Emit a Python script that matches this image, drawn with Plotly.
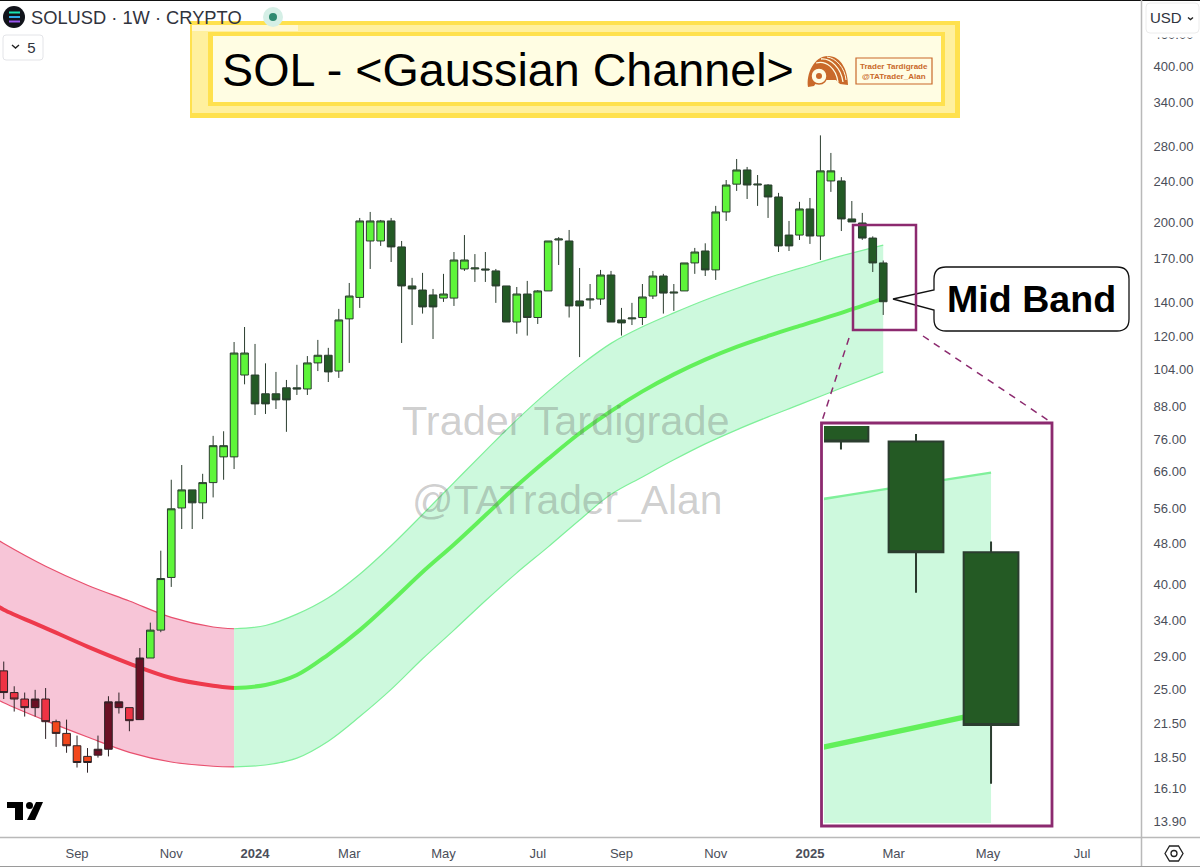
import pandas as pd
import plotly.graph_objects as go

W, H = 1200, 867

# weekly SOLUSD candles
weeks = pd.date_range("2023-07-17", periods=85, freq="7D")
opens = [27.2, 24.7, 24.0, 23.1, 24.0, 21.7, 20.6, 19.5, 18.6, 18.7, 19.2, 23.1, 23.1, 21.9, 28.8, 32.6, 41.2,
         56.1, 60.8, 57.4, 62.8, 70.4, 70.4, 101.3, 101.3, 93.2, 93.2, 95.7, 95.7, 95.2, 106.9, 110.6, 103.1, 130,
         143, 183.8, 183.8, 200.9, 179, 150.5, 147.8, 144.6, 142.6, 142.6, 162.3, 162.3, 162.3, 160.9, 150.5, 128.2,
         145.2, 130.8, 147.2, 184.6, 183.8, 140.8, 141.4, 142, 158, 129.4, 130, 130.8, 143.9, 157.3, 145.8, 147.2,
         166.7, 175.8, 161.6, 209.1, 236.6, 252, 235.7, 235.7, 223.5, 188.7, 188.7, 211.9, 187.9, 240, 240, 202.7,
         199.1, 186.2, 166.7]
closes = [24.7, 24.0, 23.1, 24.0, 21.7, 20.6, 19.5, 18.1, 18.1, 19.2, 23.7, 23.7, 21.8, 28.8, 32.6, 41.0, 55.9,
          60.8, 57.4, 62.8, 74.0, 74.0, 111.7, 111.7, 89.1, 89.1, 90.7, 90.7, 95.2, 106.9, 110.6, 102.7, 129.4, 143.9,
          200.9, 200.9, 200.9, 179, 150.5, 148.5, 137.1, 137.1, 145.2, 168.9, 168.9, 163, 161.6, 150.5, 128.2, 145.2,
          130.8, 147.2, 183.8, 185.4, 137.7, 137.7, 142, 158, 128.2, 127.7, 130.5, 143.3, 157.3, 145.8, 146.4, 166.7,
          175, 161.6, 209.1, 235.7, 252, 235.7, 236.6, 223.5, 179.8, 179.8, 211.9, 187.9, 251, 251, 202.7, 200,
          186.2, 166.7, 140.3]
highs = [28.35, 25.4, 24.7, 25.0, 25.2, 21.9, 21.9, 20.4, 19.3, 20.4, 24.3, 24.7, 23.1, 30.1, 33.7, 46.4, 63.6,
         67.9, 60.8, 65.3, 77.3, 78.9, 117.3, 125.4, 116.3, 106.7, 102.7, 99.1, 106, 110.2, 118.4, 114.3, 135.9, 152.5,
         203.6, 209.1, 201.8, 203.6, 183.8, 156, 159.5, 148.5, 158.8, 175, 188.7, 173.4, 175, 162.3, 150.5, 149.8,
         153.9, 147.8, 183.8, 187, 193, 163, 151.8, 161.6, 160.9, 136.5, 139.6, 151.8, 160.9, 158.8, 151.8, 166.7,
         178.2, 181.9, 214.8, 241, 264.6, 255.4, 246.4, 236.6, 227.6, 200.9, 218.7, 222.5, 293.9, 271.8, 244.1, 219.5,
         208.2, 187.6, 168.5]
lows = [24.0, 22.7, 22.2, 22.2, 20.1, 19.4, 18.9, 17.7, 17.3, 18.5, 18.6, 22.5, 20.8, 21.9, 28.8, 32.3, 39.5,
        51.1, 51.1, 53.4, 58.8, 63.6, 66.7, 97.2, 84.8, 85.2, 87.1, 78.7, 92.7, 92.7, 103.1, 98.2, 100, 106.9,
        136.5, 162.3, 179.8, 167.4, 116.8, 126.5, 133.1, 118.9, 140.2, 137.7, 160.9, 153.2, 153.2, 139.6, 128.2, 121.7,
        120.7, 127.1, 147.2, 165.2, 130.8, 109.7, 135.9, 138.3, 128.2, 120.7, 126.5, 126.5, 142, 133.1, 134.7, 147.2,
        158.8, 157.3, 154.6, 200.9, 229.6, 221.5, 214.8, 203.6, 175, 175.8, 184.6, 181.4, 168.9, 228.6, 192.1, 200,
        184.7, 160.1, 132.3]
assert len(opens) == len(closes) == len(highs) == len(lows) == len(weeks)

# which candles belong to which colour regime
red_weeks = [0, 1, 2, 3, 4, 9, 10, 11, 12, 13]
orange_weeks = [5, 6, 7, 8]
green_weeks = list(range(14, 85))
inset_weeks = [81, 82, 83, 84]

# Gaussian channel, bearish part then bullish part
red_dates = ["2023-07-10", "2023-07-17", "2023-08-14", "2023-09-11", "2023-10-09", "2023-11-06", "2023-12-04", "2023-12-18"]
red_upper = [49.3, 47.9, 43.3, 39.8, 37.1, 34.5, 33.05, 32.8]
red_mid = [36.7, 35.7, 32.9, 30.3, 28.1, 26.35, 25.45, 25.2]
red_lower = [24.2, 23.6, 21.8, 20.27, 18.94, 18.14, 17.8, 17.75]

green_dates = ["2023-12-18", "2024-01-08", "2024-01-29", "2024-02-19", "2024-03-11", "2024-04-01", "2024-04-22",
               "2024-05-13", "2024-06-03", "2024-06-24", "2024-07-15", "2024-08-05", "2024-08-26", "2024-09-16",
               "2024-10-07", "2024-10-28", "2024-11-18", "2024-12-09", "2024-12-30", "2025-01-27", "2025-02-24"]
green_upper = [32.8, 33.27, 35.0, 37.64, 41.8, 47.44, 54.5, 62.8, 72.3, 83.0, 94.2, 105.5, 116.6, 125.5, 133.5, 141.4,
               148.8, 156.0, 162.7, 172, 180.5]
green_mid = [25.2, 25.55, 26.7, 29.25, 32.6, 36.98, 42.2, 47.7, 54.3, 61.9, 69.8, 78.2, 86.3, 94.2, 101.6, 108.5,
             114.8, 120.5, 126, 133.5, 142.2]
green_lower = [17.75, 17.9, 18.46, 19.9, 22.2, 25.05, 28.7, 32.6, 37.14, 42.05, 47.2, 53.2, 59.6, 64.4, 69.5, 74.6,
               79.4, 84.1, 88.8, 95.6, 102.7]

price_ticks = [460, 400, 340, 280, 240, 200, 170, 140, 120, 104, 88, 76, 66, 56, 48, 40, 34, 29, 25, 21.5, 18.5, 16.1, 13.9]
date_ticks = ["2023-09-04", "2023-11-06", "2024-01-01", "2024-03-04", "2024-05-06", "2024-07-08", "2024-09-02",
              "2024-11-04", "2025-01-06", "2025-03-03", "2025-05-05", "2025-07-07"]
date_labels = ["Sep", "Nov", "<b>2024</b>", "Mar", "May", "Jul", "Sep", "Nov", "<b>2025</b>", "Mar", "May", "Jul"]

FONT = "Liberation Sans"
PURPLE = "#8c2a6f"
GREEN_LINE = "#7ff09a"
GREEN_MID = "#62f05a"
GREEN_FILL = "#cdf9dd"
RED_LINE = "#e8506e"
RED_MID = "#ee3a4c"
RED_FILL = "#f7c5d7"
BANNER_DARK = "#ffe14e"
BANNER_LIGHT = "#fff09e"
BANNER_CREAM = "#fffde3"
ORANGE = "#c9692a"


def px(x):
    return x / W


def py(y):
    return 1 - y / H


def rect(x0, y0, x1, y1, fill="rgba(0,0,0,0)", line="rgba(0,0,0,0)", width=0, kind="rect"):
    return dict(type=kind, xref="paper", yref="paper", x0=px(x0), y0=py(y0), x1=px(x1), y1=py(y1),
                fillcolor=fill, line=dict(color=line, width=width))


def path(d, fill=None, line="rgba(0,0,0,0)", width=0, dash="solid"):
    # d is an svg path with absolute pixel coordinates, turned into paper coordinates here
    out = []
    is_x = True
    for tok in d.split():
        if tok.isalpha():
            out.append(tok)
        else:
            out.append(str(px(float(tok)) if is_x else py(float(tok))))
            is_x = not is_x
    s = dict(type="path", xref="paper", yref="paper", path=" ".join(out), line=dict(color=line, width=width, dash=dash))
    if fill:
        s["fillcolor"] = fill
    return s


def label(x, y, text, size, color="#000", anchor="center", family=FONT):
    return dict(xref="paper", yref="paper", x=px(x), y=py(y), text=text, showarrow=False, xanchor=anchor,
                yanchor="middle", font=dict(family=family, size=size, color=color), borderpad=0, borderwidth=0)


def candles(idx, up, down, border, width, xaxis="x", yaxis="y"):
    return go.Candlestick(
        x=[weeks[i] for i in idx],
        open=[opens[i] for i in idx],
        high=[highs[i] for i in idx],
        low=[lows[i] for i in idx],
        close=[closes[i] for i in idx],
        increasing=dict(fillcolor=up, line=dict(color=border, width=width)),
        decreasing=dict(fillcolor=down, line=dict(color=border, width=width)),
        whiskerwidth=0, xaxis=xaxis, yaxis=yaxis, zorder=2, hoverinfo="skip",
    )


def band(dates, upper, mid, lower, edge, centre, fill, edge_w, mid_w, xaxis="x", yaxis="y"):
    common = dict(x=dates, mode="lines", xaxis=xaxis, yaxis=yaxis, hoverinfo="skip")
    return [
        go.Scatter(y=upper, line=dict(color=edge, width=edge_w, shape="spline", smoothing=1), **common),
        go.Scatter(y=lower, line=dict(color=edge, width=edge_w, shape="spline", smoothing=1), fill="tonexty",
                   fillcolor=fill, **common),
        go.Scatter(y=mid, line=dict(color=centre, width=mid_w, shape="spline", smoothing=1), **common),
    ]


fig = go.Figure()

for t in band(red_dates, red_upper, red_mid, red_lower, RED_LINE, RED_MID, RED_FILL, 1.2, 4):
    fig.add_trace(t)
for t in band(green_dates, green_upper, green_mid, green_lower, GREEN_LINE, GREEN_MID, GREEN_FILL, 1.2, 4):
    fig.add_trace(t)
fig.add_trace(candles(red_weeks, "#6b1024", "#ee3344", "#2e2226", 1))
fig.add_trace(candles(orange_weeks, "#f2471c", "#f2471c", "#2e2226", 1))
fig.add_trace(candles(green_weeks, "#5ef53a", "#235a25", "#2b3d2f", 1))

# zoomed panel, same data on its own axes
for t in band(green_dates, green_upper, green_mid, green_lower, GREEN_LINE, GREEN_MID, GREEN_FILL, 2.5, 5.5, "x2", "y2"):
    fig.add_trace(t)
fig.add_trace(candles(inset_weeks, "#5ef53a", "#245a24", "#2b3d2f", 2, "x2", "y2"))

shapes = [
    # chart frame
    rect(0, 0, W, 1, fill="#111", ),
    rect(0, 866, W, 867, fill="#9a9a9a"),
    path("M 0 837.5 L 1200 837.5", line="#b9b9b9", width=1.5),
    path("M 1141.5 0 L 1141.5 866", line="#b9b9b9", width=1.5),
    # title banner
    rect(190, 21, 960, 118, fill=BANNER_DARK),
    rect(192, 25, 955, 113, fill=BANNER_LIGHT),
    rect(208, 32, 945, 106, fill=BANNER_DARK),
    rect(213, 36, 941, 102, fill=BANNER_CREAM),
    rect(192, 25, 298, 31, fill="#fff8d4"),
    # logo box
    rect(856, 58, 932, 84, line=ORANGE, width=1.2),
    path("M 808 87 C 806 74 814 56 828 56 C 842 56 848 72 848 85 L 840 84 L 836 80 L 818 80 L 814 86 Z", fill=ORANGE),
    path("M 816 63 C 826 60 836 68 838 82", line=BANNER_CREAM, width=1.3),
    path("M 821 59 C 831 58 841 68 843 82", line=BANNER_CREAM, width=1.3),
    path("M 827 57 C 836 58 845 68 846 80", line=BANNER_CREAM, width=1),
    rect(811, 68, 827, 84, fill=BANNER_CREAM, line=ORANGE, width=1.5, kind="circle"),
    rect(816, 73, 822, 79, fill=ORANGE, kind="circle"),
    # header icons
    rect(3, 6, 25, 28, fill="#11131a", kind="circle"),
    path("M 9 12.5 L 20 12.5", line="#19e3b0", width=2),
    path("M 9 17 L 20 17", line="#2fa8e8", width=2),
    path("M 9 21.5 L 20 21.5", line="#9a55f0", width=2),
    rect(263, 7, 283, 27, fill="#d5efe6", kind="circle"),
    rect(269, 13, 277, 21, fill="#2f8a70", kind="circle"),
    path("M 6 60 L 40 60 Q 43 60 43 57 L 43 38 Q 43 35 40 35 L 6 35 Q 3 35 3 38 L 3 57 Q 3 60 6 60 Z",
         fill="#fff", line="#e3e4e8", width=1),
    path("M 12 45 L 15.5 48 L 19 45", line="#222", width=1.4),
    # currency button covers the top price label
    rect(1143, 33, 1200, 37.5, fill="#fff"),
    path("M 1150 33 L 1195 33 Q 1199 33 1199 29 L 1199 7 Q 1199 3 1195 3 L 1150 3 Q 1146 3 1146 7 L 1146 29 Q 1146 33 1150 33 Z",
         fill="#fff", line="#ececec", width=1),
    path("M 1188 17.5 L 1190.5 19.5 L 1193 17.5", line="#222", width=1.4),
    # settings icon
    path("M 1165 853.5 L 1169.5 846 L 1178.5 846 L 1183 853.5 L 1178.5 861 L 1169.5 861 Z", line="#222", width=1.3),
    rect(1171, 850.5, 1177, 856.5, line="#222", width=1.3, kind="circle"),
    # TradingView mark
    path("M 7 802 L 23 802 L 23 820 L 15 820 L 15 808 L 7 808 Z", fill="#000"),
    rect(26, 802, 33, 809, fill="#000", kind="circle"),
    path("M 36 802 L 43 802 L 35 820 L 27 820 Z", fill="#000"),
    # callout
    path("M 934 290 L 934 279 Q 934 267 946 267 L 1117 267 Q 1129 267 1129 279 L 1129 319 Q 1129 331 1117 331 "
         "L 946 331 Q 934 331 934 319 L 934 310 L 893 299 Z", fill="#fff", line="#111", width=1.3),
    # zoom frames
    rect(853, 225, 916, 330, line=PURPLE, width=2.5),
    rect(821.5, 423, 1052, 826, line=PURPLE, width=2.8),
    path("M 849 338 L 822 421", line=PURPLE, width=1.5, dash="7px,6px"),
    path("M 923 336 L 1050 421.5", line=PURPLE, width=1.5, dash="7px,6px"),
]

annotations = [
    label(508, 70, "SOL - &lt;Gaussian Channel&gt;", 46.7),
    label(894, 66, "<b>Trader Tardigrade</b>", 8, ORANGE),
    label(894, 76, "<b>@TATrader_Alan</b>", 8, ORANGE),
    label(31, 17, "SOLUSD · 1W · CRYPTO", 18.3, "#30333d", anchor="left"),
    label(23, 47.5, " 5", 15, "#30333d", anchor="left"),
    label(1150, 18, "USD", 15, "#30333d", anchor="left"),
    label(1031, 299, "<b>Mid Band</b>", 37.6),
    label(566, 420, "Trader Tardigrade", 41.5, "rgba(105,105,105,0.33)"),
    label(567, 500, "@TATrader_Alan", 40.8, "rgba(105,105,105,0.33)"),
]

fig.update_layout(
    width=W, height=H, margin=dict(l=0, r=0, t=0, b=0), autosize=False,
    paper_bgcolor="#fff", plot_bgcolor="#fff", showlegend=False, boxgap=0.27, boxgroupgap=0,
    font=dict(family=FONT),
    shapes=shapes, annotations=annotations,
    xaxis=dict(
        type="date", domain=[0, px(1141)], range=["2023-07-14 12:00", "2025-08-15 08:00"], anchor="y",
        rangeslider=dict(visible=False), showgrid=False, zeroline=False,
        tickvals=date_ticks, ticktext=date_labels, ticks="outside", ticklen=4, tickcolor="rgba(0,0,0,0)",
        tickfont=dict(size=13, color="#4a4e59"),
    ),
    yaxis=dict(
        type="log", domain=[py(837), py(2)], range=[1.1139, 2.7256], side="right", anchor="x",
        showgrid=False, zeroline=False,
        tickvals=price_ticks, ticktext=[f"{p:.2f}" for p in price_ticks], ticks="outside", ticklen=9,
        tickcolor="rgba(0,0,0,0)", tickfont=dict(size=13, color="#4a4e59"),
    ),
    xaxis2=dict(
        type="date", domain=[px(824), px(1050)], range=["2025-02-08 10:00", "2025-03-01 12:00"], anchor="y2",
        rangeslider=dict(visible=False), visible=False,
    ),
    yaxis2=dict(type="log", domain=[py(823), py(426)], range=[2.1045, 2.2767], anchor="x2", visible=False),
)

fig.write_html("out.html", config=dict(displayModeBar=False),
               post_script="document.body.style.margin='0';document.documentElement.style.overflow='hidden';")
